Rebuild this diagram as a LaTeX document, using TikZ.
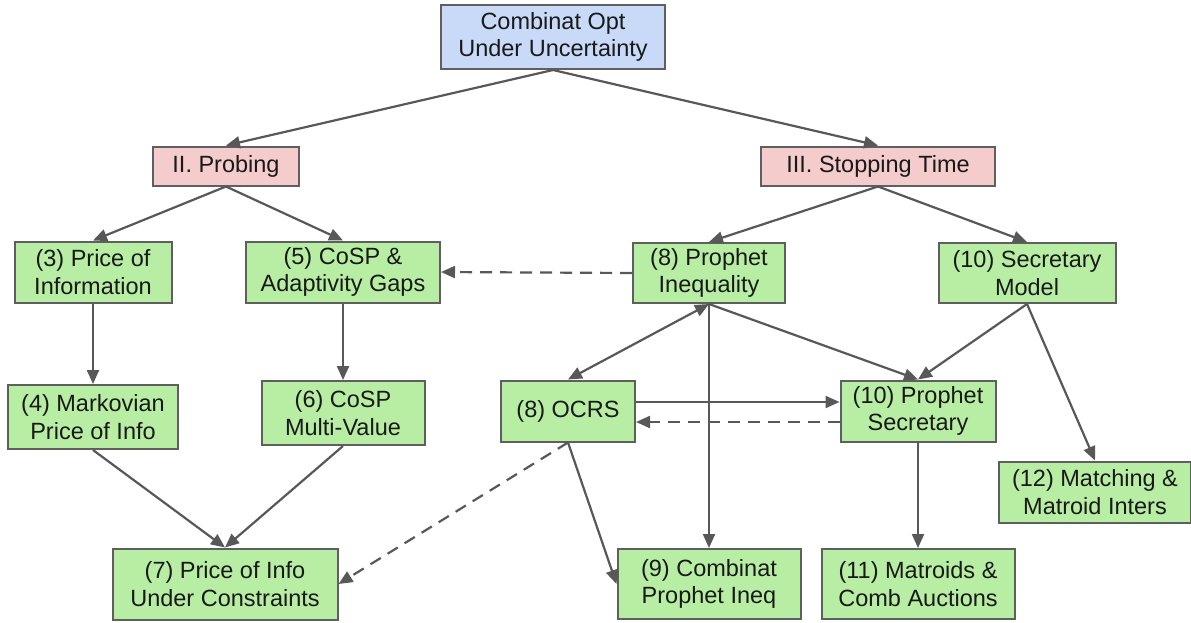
\documentclass[tikz,border=0pt]{standalone}
\usepackage{fontspec}
\setmainfont{Liberation Sans}
\usetikzlibrary{arrows.meta}

\begin{document}
\begin{tikzpicture}[x=1pt, y=-1pt]
  % Colors
  \definecolor{rootcol}{RGB}{201,218,248}
  \definecolor{partcol}{RGB}{244,204,204}
  \definecolor{topiccol}{RGB}{184,238,164}
  \definecolor{rimcol}{RGB}{95,95,95}
  \definecolor{linkcol}{RGB}{88,88,88}
  \definecolor{inkcol}{RGB}{25,25,25}
  %
  \tikzset{
    tbox/.style={draw=rimcol, line width=2pt, inner sep=0pt, align=center,
                 text=inkcol, font=\fontsize{23.5}{27.5}\selectfont},
    topic/.style={tbox, fill=topiccol},
    link/.style={line width=2.2pt, draw=linkcol},
    hint/.style={link, dash pattern=on 12pt off 8pt},
    >={Triangle[length=14pt, width=12pt]},
  }
  %
  % === CANVAS ===
  \useasboundingbox (0, 0) rectangle (1191, 622);
  %
  % === ROOT AND PARTS ===
  \node[tbox, fill=rootcol, minimum width=224pt, minimum height=64pt] (root) at (553, 37)
    {Combinat Opt\\Under Uncertainty};
  \node[tbox, fill=partcol, minimum width=146pt, minimum height=39pt] (probing) at (226, 166)
    {II. Probing};
  \node[tbox, fill=partcol, minimum width=234pt, minimum height=39pt] (stopping) at (878, 166)
    {III. Stopping Time};
  %
  % === TOPIC BOXES (name/x/y/width/height/text) ===
  \foreach \nm/\cx/\cy/\w/\h/\txt in {
    poi/93/272/157/61/{(3) Price of\\Information},
    cosp/343/272/194/61/{(5) CoSP \&\\Adaptivity Gaps},
    prophet/709/273/152/60/{(8) Prophet\\Inequality},
    secmodel/1027/273/177/60/{(10) Secretary\\Model},
    markov/93/417/170/64/{(4) Markovian\\Price of Info},
    cospmv/343/413/163/64/{(6) CoSP\\Multi-Value},
    ocrs/568/411/134/61/{(8) OCRS},
    prophsec/918/411/155/61/{(10) Prophet\\Secretary},
    matching/1095/492/192/61/{(12) Matching \&\\Matroid Inters},
    poicons/225/584/225/71/{(7) Price of Info\\Under Constraints},
    combproph/709/584/183/70/{(9) Combinat\\Prophet Ineq},
    matroids/918/584/193/70/{(11) Matroids \&\\Comb Auctions}%
  } {
    \node[topic, minimum width=\w pt, minimum height=\h pt] (\nm) at (\cx, \cy) {\txt};
  }
  %
  % === TREE EDGES ===
  \draw[link, ->] (root.south) -- (probing.north);
  \draw[link, ->] (root.south) -- (stopping.north);
  \draw[link, ->] (probing.south) -- (poi.north);
  \draw[link, ->] (probing.south) -- (cosp.north);
  \draw[link, ->] (stopping.south) -- (prophet.north);
  \draw[link, ->] (stopping.south) -- (secmodel.north);
  %
  % === PROBING SIDE ===
  \draw[link, ->] (poi.south) -- (markov.north);
  \draw[link, ->] (cosp.south) -- (cospmv.north);
  \draw[link, ->] (markov.south) -- (poicons.north);
  \draw[link, ->] (cospmv.south) -- (poicons.north);
  %
  % === STOPPING SIDE ===
  \draw[link, <->] (prophet.south) -- (ocrs.north);
  \draw[link, ->] (prophet.south) -- (combproph.north);
  \draw[link, ->] (prophet.south) -- (prophsec.north);
  \draw[link, ->] (secmodel.south) -- (prophsec.north);
  \draw[link, ->] (secmodel.south) -- (matching.north);
  \draw[link, ->] ([yshift=9pt]ocrs.east) -- ([yshift=9pt]prophsec.west);
  \draw[link, ->] (ocrs.south) -- (combproph.west);
  \draw[link, ->] (prophsec.south) -- (matroids.north);
  %
  % === DASHED LINKS ===
  \draw[hint, ->] (prophet.west) -- (cosp.east);
  \draw[hint, ->] ([yshift=-11pt]prophsec.west) -- ([yshift=-11pt]ocrs.east);
  \draw[hint, ->] (ocrs.south) -- (poicons.east);
  %
\end{tikzpicture}
\end{document}
